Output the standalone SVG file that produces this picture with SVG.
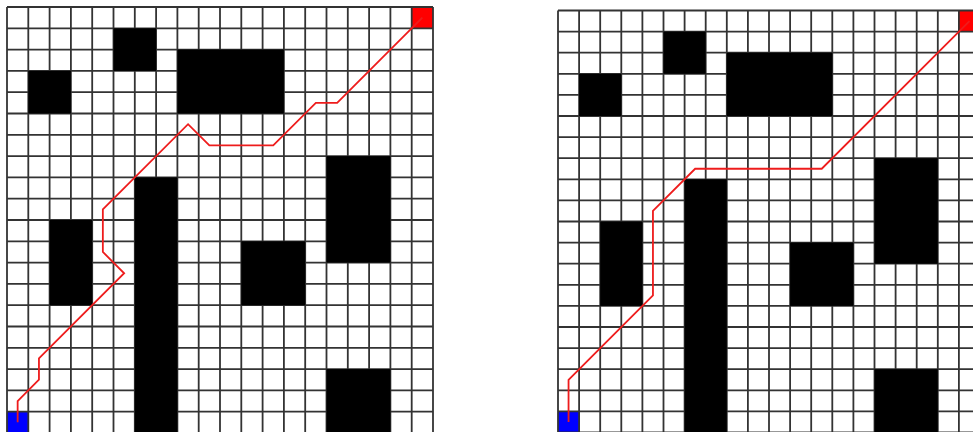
<svg xmlns="http://www.w3.org/2000/svg" width="973" height="432" viewBox="0 0 973 432">
<style>
.gl{fill:none;stroke:#333;stroke-width:1.8;vector-effect:non-scaling-stroke}
.ob{fill:#000}
.start{fill:#0000ff}
.goal{fill:#ff0000}
.route{fill:none;stroke:#ee1c1c;stroke-width:1.8;stroke-linejoin:miter;vector-effect:non-scaling-stroke}
</style>
<defs>
<g id="board">
<rect x="0" y="0" width="20" height="20" fill="#fff"/>
<rect class="start" x="0" y="19" width="1" height="1"/>
<rect class="goal" x="19" y="0" width="1" height="1"/>
<path class="gl" d="M0 0V20M1 0V20M2 0V20M3 0V20M4 0V20M5 0V20M6 0V20M7 0V20M8 0V20M9 0V20M10 0V20M11 0V20M12 0V20M13 0V20M14 0V20M15 0V20M16 0V20M17 0V20M18 0V20M19 0V20M20 0V20M0 0H20M0 1H20M0 2H20M0 3H20M0 4H20M0 5H20M0 6H20M0 7H20M0 8H20M0 9H20M0 10H20M0 11H20M0 12H20M0 13H20M0 14H20M0 15H20M0 16H20M0 17H20M0 18H20M0 19H20M0 20H20"/>
<g id="obstacles">
<rect class="ob" x="5" y="1" width="2" height="2"/>
<rect class="ob" x="1" y="3" width="2" height="2"/>
<rect class="ob" x="8" y="2" width="5" height="3"/>
<rect class="ob" x="6" y="8" width="2" height="12"/>
<rect class="ob" x="2" y="10" width="2" height="4"/>
<rect class="ob" x="15" y="7" width="3" height="5"/>
<rect class="ob" x="11" y="11" width="3" height="3"/>
<rect class="ob" x="15" y="17" width="3" height="3"/>
</g>
</g>
</defs>
<rect width="973" height="432" fill="#fff"/>
<g id="left-grid" transform="translate(7,7) scale(21.3)">
<use href="#board"/>
<g id="left-connectors">
<polyline class="route" points="0.5,19.5 0.5,18.5 1.5,17.5 1.5,16.5 5.5,12.5 4.5,11.5 4.5,9.5 8.5,5.5 9.5,6.5 12.5,6.5 14.5,4.5 15.5,4.5 19.5,0.5"/>
</g>
</g>
<g id="right-grid" transform="translate(558,10.5) scale(21.1)">
<use href="#board"/>
<g id="right-connectors">
<polyline class="route" points="0.5,19.5 0.5,17.5 4.5,13.5 4.5,9.5 6.5,7.5 12.5,7.5 19.5,0.5"/>
</g>
</g>
</svg>
